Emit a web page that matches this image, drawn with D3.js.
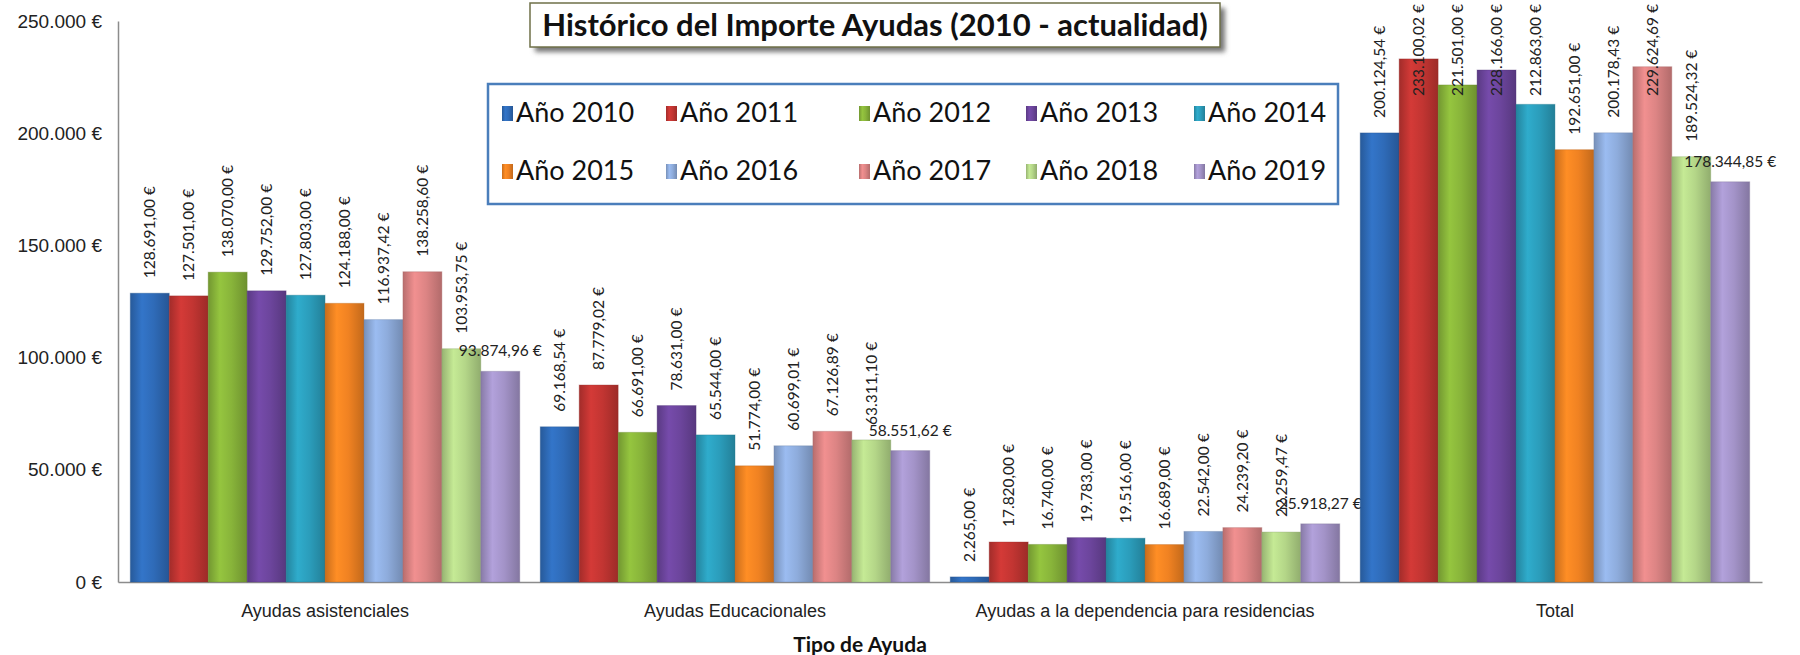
<!DOCTYPE html>
<html>
<head>
<meta charset="utf-8">
<script src="https://cdn.jsdelivr.net/npm/d3@7"></script>
<style>
  body { margin: 0; background: #fff; }
  svg { display: block; font-family: Lato, "Open Sans", sans-serif; }
</style>
</head>
<body>
<div id="chart"></div>
<script>
// ---------------- data ----------------
const categories = ["Ayudas asistenciales", "Ayudas Educacionales", "Ayudas a la dependencia para residencias", "Total"];
const years = ["Año 2010", "Año 2011", "Año 2012", "Año 2013", "Año 2014", "Año 2015", "Año 2016", "Año 2017", "Año 2018", "Año 2019"];
const v2010 = [128691.00, 69168.54, 2265.00, 200124.54];
const v2011 = [127501.00, 87779.02, 17820.00, 233100.02];
const v2012 = [138070.00, 66691.00, 16740.00, 221501.00];
const v2013 = [129752.00, 78631.00, 19783.00, 228166.00];
const v2014 = [127803.00, 65544.00, 19516.00, 212863.00];
const v2015 = [124188.00, 51774.00, 16689.00, 192651.00];
const v2016 = [116937.42, 60699.01, 22542.00, 200178.43];
const v2017 = [138258.60, 67126.89, 24239.20, 229624.69];
const v2018 = [103953.75, 63311.10, 22259.47, 189524.32];
const v2019 = [93874.96, 58551.62, 25918.27, 178344.85];
const yTicks = [0, 50000, 100000, 150000, 200000, 250000];
const seriesValues = [v2010, v2011, v2012, v2013, v2014, v2015, v2016, v2017, v2018, v2019];
const colorList = ["#2f6bb8", "#c23532", "#88b43a", "#6c459c", "#2b9dbb", "#f08222", "#8eacdc", "#dc8484", "#b4d688", "#a393c8"];

// ---------------- setup ----------------
const W = 1800, H = 655;
const locale = d3.formatLocale({ decimal: ",", thousands: ".", grouping: [3], currency: ["", " €"] });
const fmtVal = locale.format(",.2f");
const fmtTick = locale.format(",.0f");

const svg = d3.select("#chart").append("svg")
    .attr("width", W)
    .attr("height", H);

const defs = svg.append("defs");

// glassy gradient for each year colour
colorList.forEach((c, i) => {
    const g = defs.append("linearGradient")
        .attr("id", "grad" + i)
        .attr("x1", "0%").attr("x2", "100%")
        .attr("y1", "0%").attr("y2", "0%");
    g.append("stop").attr("offset", "0%").attr("stop-color", d3.color(c).darker(0.5));
    g.append("stop").attr("offset", "30%").attr("stop-color", d3.color(c).brighter(0.25));
    g.append("stop").attr("offset", "60%").attr("stop-color", c);
    g.append("stop").attr("offset", "100%").attr("stop-color", d3.color(c).darker(0.6));
});

const shadow = defs.append("filter").attr("id", "shadow")
    .attr("x", "-10%").attr("y", "-30%").attr("width", "130%").attr("height", "180%");
shadow.append("feGaussianBlur").attr("stdDeviation", 2.5);

const x0 = d3.scaleBand()
    .domain(categories)
    .range([118, 1762])
    .paddingInner(0.05)
    .paddingOuter(0.03);

const x1 = d3.scaleBand()
    .domain(d3.range(years.length))
    .range([0, x0.bandwidth()]);

const y = d3.scaleLinear()
    .domain([0, 250000])
    .range([582, 21]);

// ---------------- axes ----------------
svg.append("g")
    .attr("transform", "translate(118,0)")
    .call(d3.axisLeft(y).tickValues(yTicks).tickSize(0).tickPadding(16).tickFormat(d => fmtTick(d) + " €"))
    .call(g => g.select(".domain").attr("stroke", "#8c8c8c").attr("stroke-width", 1.5))
    .call(g => g.selectAll("text").attr("font-size", 19).attr("fill", "#222"));

svg.append("g")
    .attr("transform", "translate(0,582)")
    .call(d3.axisBottom(x0).tickSize(0).tickPadding(22).tickSizeOuter(0))
    .call(g => g.select(".domain").attr("stroke", "#8c8c8c").attr("stroke-width", 1.5))
    .call(g => g.selectAll("text").attr("font-size", 18).attr("fill", "#222"));

svg.append("text")
    .attr("x", 860)
    .attr("y", 652)
    .attr("text-anchor", "middle")
    .attr("font-size", 21)
    .attr("font-weight", "bold")
    .attr("fill", "#111")
    .text("Tipo de Ayuda");

// ---------------- bars ----------------
const groups = svg.selectAll("g.cat")
    .data(categories)
    .join("g")
    .attr("class", "cat")
    .attr("transform", d => `translate(${x0(d)},0)`);

groups.each(function (cat, ci) {
    const g = d3.select(this);
    seriesValues.forEach((vals, si) => {
        const val = vals[ci];
        g.append("rect")
            .attr("x", x1(si))
            .attr("y", y(val))
            .attr("width", x1.bandwidth())
            .attr("height", y(0) - y(val))
            .attr("fill", `url(#grad${si})`)
            .attr("stroke", d3.color(colorList[si]).darker(0.8))
            .attr("stroke-opacity", 0.35)
            .attr("stroke-width", 1);
    });
});

// ---------------- labels ----------------
groups.each(function (cat, ci) {
    const g = d3.select(this);
    seriesValues.forEach((vals, si) => {
        const val = vals[ci];
        const cx = x1(si) + x1.bandwidth() / 2;
        if (si === years.length - 1) {
            g.append("text")
                .attr("x", cx)
                .attr("y", y(val) - 15)
                .attr("text-anchor", "middle")
                .attr("font-size", 15.5)
                .attr("fill", "#222")
                .text(fmtVal(val) + " €");
        } else {
            // labels that would run off the top are pushed down into the bar
            const start = Math.max(y(val) - 15, 96);
            g.append("text")
                .attr("transform", `translate(${cx + 5.5},${start}) rotate(-90)`)
                .attr("text-anchor", "start")
                .attr("font-size", 15.5)
                .attr("fill", "#222")
                .text(fmtVal(val) + " €");
        }
    });
});

// ---------------- title ----------------
const title = svg.append("g").attr("transform", "translate(530,3)");
title.append("rect")
    .attr("x", 5).attr("y", 5)
    .attr("width", 690).attr("height", 44)
    .attr("fill", "#777")
    .attr("filter", "url(#shadow)");
title.append("rect")
    .attr("width", 690).attr("height", 44)
    .attr("fill", "#fff")
    .attr("stroke", "#6f7048")
    .attr("stroke-width", 1.5);
title.append("text")
    .attr("x", 345).attr("y", 33)
    .attr("text-anchor", "middle")
    .attr("font-size", 31)
    .attr("font-weight", "bold")
    .attr("fill", "#111")
    .text("Histórico del Importe Ayudas (2010 - actualidad)");

// ---------------- legend ----------------
const legend = svg.append("g").attr("transform", "translate(488,84)");
legend.append("rect")
    .attr("width", 850).attr("height", 120)
    .attr("fill", "#fff")
    .attr("stroke", "#4a7ebb")
    .attr("stroke-width", 2.5);

const colX = [14, 178, 371, 538, 706];
years.forEach((yr, i) => {
    const row = Math.floor(i / 5), col = i % 5;
    const item = legend.append("g")
        .attr("transform", `translate(${colX[col]},${row === 0 ? 30 : 88})`);
    item.append("rect")
        .attr("x", 0).attr("y", -8)
        .attr("width", 11).attr("height", 15)
        .attr("fill", `url(#grad${i})`);
    item.append("text")
        .attr("x", 14).attr("y", 1)
        .attr("dominant-baseline", "middle")
        .attr("font-size", 27)
        .attr("fill", "#111")
        .text(yr);
});
</script>
</body>
</html>
